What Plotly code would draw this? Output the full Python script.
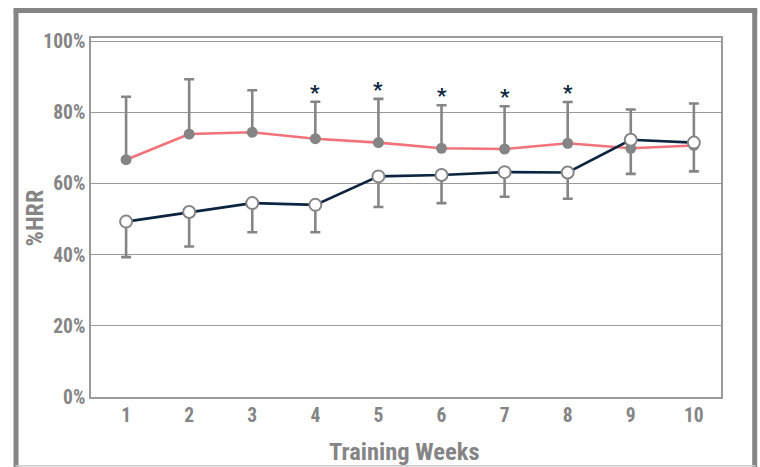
import plotly.graph_objects as go

weeks = [1, 2, 3, 4, 5, 6, 7, 8, 9, 10]
week_labels = ["1", "2", "3", "4", "5", "6", "7", "8", "9", "10"]

# Group A (red line, filled grey markers): mean %HRR and upper SD
group_a = [66.7, 73.9, 74.4, 72.6, 71.5, 69.9, 69.7, 71.3, 69.9, 70.7]
group_a_sd = [17.7, 15.4, 11.8, 10.4, 12.3, 12.1, 12.0, 11.6, 10.9, 11.8]

# Group B (navy line, open markers): mean %HRR and lower SD
group_b = [49.3, 52.0, 54.5, 54.0, 62.0, 62.4, 63.2, 63.1, 72.3, 71.5]
group_b_sd = [10.0, 9.7, 8.2, 7.7, 8.6, 7.9, 6.9, 7.4, 9.6, 8.1]

# Weeks with a significant between-group difference
sig_weeks = [4, 5, 6, 7, 8]

y_ticks = [0, 20, 40, 60, 80, 100]
y_tick_labels = ["0%", "20%", "40%", "60%", "80%", "100%"]

GREY = "#858585"
RED = "#F2727A"
NAVY = "#0B2540"
FONT = "Roboto Condensed, Liberation Sans Narrow, Roboto, sans-serif"

fig = go.Figure()

fig.add_trace(go.Scatter(
    x=weeks, y=group_a, mode="lines+markers",
    line=dict(color=RED, width=2.6),
    marker=dict(color=GREY, size=11, line=dict(width=0)),
    error_y=dict(type="data", symmetric=False, array=group_a_sd,
                 arrayminus=[0] * len(weeks), color=GREY, thickness=2.6, width=5),
    showlegend=False, hoverinfo="skip",
))
fig.add_trace(go.Scatter(
    x=weeks, y=group_b, mode="lines+markers",
    line=dict(color=NAVY, width=2.6),
    marker=dict(color="white", size=12, line=dict(color=GREY, width=2)),
    error_y=dict(type="data", symmetric=False, array=[0] * len(weeks),
                 arrayminus=group_b_sd, color=GREY, thickness=2.6, width=5),
    showlegend=False, hoverinfo="skip",
))

for w in sig_weeks:
    i = weeks.index(w)
    fig.add_annotation(
        x=w, y=group_a[i] + group_a_sd[i], yshift=-5,
        text="<b>*</b>", showarrow=False, yanchor="bottom",
        font=dict(family="Roboto, sans-serif", size=21, color=NAVY),
    )

# Axis titles
fig.add_annotation(
    xref="paper", yref="paper", x=-0.089, y=0.5, textangle=-90,
    text="%HRR", showarrow=False, xanchor="center", yanchor="middle",
    font=dict(family=FONT, size=24, color=GREY, weight="bold"),
)
fig.add_annotation(
    xref="paper", yref="paper", x=0.497, y=-0.152,
    text="Training Weeks", showarrow=False, xanchor="center", yanchor="middle",
    font=dict(family=FONT, size=24.5, color=GREY, weight="bold"),
)

# Outer frame
frame = dict(type="line", xref="paper", yref="paper", line=dict(color=GREY, width=5))
fig.add_shape(**frame, x0=-0.119, x1=-0.119, y0=-0.21, y1=1.0765)
fig.add_shape(**frame, x0=-0.123, x1=1.0575, y0=1.0765, y1=1.0765)
fig.add_shape(**frame, x0=1.0535, x1=1.0535, y0=-0.21, y1=1.0765)
fig.add_shape(type="line", xref="paper", yref="paper", x0=-0.12, x1=1.055,
              y0=-0.1915, y1=-0.1915, line=dict(color="#C8C8C8", width=1.5))

fig.update_layout(
    width=760, height=467,
    margin=dict(l=91, r=39, t=38, b=70),
    paper_bgcolor="white", plot_bgcolor="white",
    font=dict(family=FONT, color=GREY, weight="bold"),
    xaxis=dict(
        range=[0.444, 10.43], tickmode="array", tickvals=weeks, ticktext=week_labels,
        showgrid=False, zeroline=False, automargin=False,
        showline=True, linecolor="#9A9A9A", linewidth=1.5, mirror=True,
        ticks="", tickfont=dict(family=FONT, size=19.5, color=GREY, weight="bold"),
    ),
    yaxis=dict(
        range=[0, 100.9], tickmode="array", tickvals=y_ticks, ticktext=y_tick_labels,
        showgrid=True, gridcolor="#9A9A9A", gridwidth=1.3, zeroline=False,
        automargin=False,
        showline=True, linecolor="#9A9A9A", linewidth=1.5, mirror=True,
        ticks="", ticklabelstandoff=0,
        tickfont=dict(family=FONT, size=19.5, color=GREY, weight="bold"),
    ),
)

fig.write_html("out.html")
